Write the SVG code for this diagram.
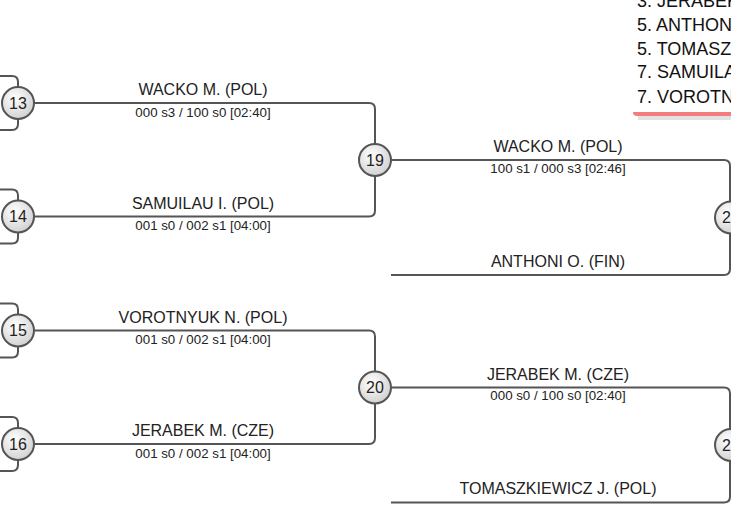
<svg xmlns="http://www.w3.org/2000/svg" width="731" height="519" viewBox="0 0 731 519">
<defs>
<radialGradient id="g" cx="40%" cy="35%" r="70%">
<stop offset="0" stop-color="#ffffff"/>
<stop offset="1" stop-color="#cfcfcf"/>
</radialGradient>
</defs>
<style>
.ln{fill:none;stroke:#555;stroke-width:2}
.nd circle{fill:url(#g);stroke:#555;stroke-width:2}
text{font-family:"Liberation Sans",Arial,sans-serif;fill:#222}
.nd text{font-size:16px;text-anchor:middle}
.nm{font-size:16px;text-anchor:middle}
.sc{font-size:13.3px;text-anchor:middle}
.rs{font-size:18px;fill:#111}
</style>
<rect width="731" height="519" fill="#fff"/>
<g id="results">
<rect x="633" y="-10" width="110" height="122" fill="#fff"/>
<rect x="638" y="115" width="95" height="5" fill="#e2e2e2"/>
<path d="M633 112 H731 V116 H637 Q633 116 633 112 Z" fill="#f47c7c"/>
<text class="rs" x="637" y="7">3. JERABEK M. (CZE)</text>
<text class="rs" x="637" y="31">5. ANTHONI O. (FIN)</text>
<text class="rs" x="637" y="54.8">5. TOMASZKIEWICZ J. (POL)</text>
<text class="rs" x="637" y="78.4">7. SAMUILAU I. (POL)</text>
<text class="rs" x="637" y="102.5">7. VOROTNYUK N. (POL)</text>
</g>
<g id="connectors">
<path class="ln" d="M0 76 H12 Q18 76 18 82 V87 M18 119 V124 Q18 130 12 130 H0"/>
<path class="ln" d="M0 189.5 H12 Q18 189.5 18 195.5 V200.5 M18 232.5 V237.5 Q18 243.5 12 243.5 H0"/>
<path class="ln" d="M0 303.5 H12 Q18 303.5 18 309.5 V314.5 M18 346.5 V351.5 Q18 357.5 12 357.5 H0"/>
<path class="ln" d="M0 417 H12 Q18 417 18 423 V428 M18 460 V465 Q18 471 12 471 H0"/>
<path class="ln" d="M34 103 H369 Q375 103 375 109 V144"/>
<path class="ln" d="M34 216.5 H369 Q375 216.5 375 210.5 V176"/>
<path class="ln" d="M34 330.5 H369 Q375 330.5 375 336.5 V371.5"/>
<path class="ln" d="M34 444 H369 Q375 444 375 438 V403.5"/>
<path class="ln" d="M391 160 H724 Q730 160 730 166 V201.5"/>
<path class="ln" d="M391 275 H724 Q730 275 730 269 V233.5"/>
<path class="ln" d="M391 387.5 H724 Q730 387.5 730 393.5 V429"/>
<path class="ln" d="M391 502.5 H724 Q730 502.5 730 496.5 V461"/>
<text class="nm" x="203" y="95">WACKO M. (POL)</text>
<text class="sc" x="203" y="116.5">000 s3 / 100 s0 [02:40]</text>
<text class="nm" x="203" y="208.5">SAMUILAU I. (POL)</text>
<text class="sc" x="203" y="230">001 s0 / 002 s1 [04:00]</text>
<text class="nm" x="203" y="322.5">VOROTNYUK N. (POL)</text>
<text class="sc" x="203" y="344">001 s0 / 002 s1 [04:00]</text>
<text class="nm" x="203" y="436">JERABEK M. (CZE)</text>
<text class="sc" x="203" y="457.5">001 s0 / 002 s1 [04:00]</text>
<text class="nm" x="558" y="152">WACKO M. (POL)</text>
<text class="sc" x="558" y="172.5">100 s1 / 000 s3 [02:46]</text>
<text class="nm" x="558" y="267">ANTHONI O. (FIN)</text>
<text class="nm" x="558" y="379.5">JERABEK M. (CZE)</text>
<text class="sc" x="558" y="400">000 s0 / 100 s0 [02:40]</text>
<text class="nm" x="558" y="494">TOMASZKIEWICZ J. (POL)</text>
</g>
<g id="m13" class="nd"><circle cx="18" cy="103" r="16"/><text x="18" y="108.7">13</text></g>
<g id="m14" class="nd"><circle cx="18" cy="216.5" r="16"/><text x="18" y="222.2">14</text></g>
<g id="m15" class="nd"><circle cx="18" cy="330.5" r="16"/><text x="18" y="336.2">15</text></g>
<g id="m16" class="nd"><circle cx="18" cy="444" r="16"/><text x="18" y="449.7">16</text></g>
<g id="m19" class="nd"><circle cx="375" cy="160" r="16"/><text x="375" y="165.7">19</text></g>
<g id="m20" class="nd"><circle cx="375" cy="387.5" r="16"/><text x="375" y="393.2">20</text></g>
<g id="m21" class="nd"><circle cx="731" cy="217.5" r="16"/><text x="731" y="223.2">21</text></g>
<g id="m22" class="nd"><circle cx="731" cy="445" r="16"/><text x="731" y="450.7">22</text></g>
</svg>
